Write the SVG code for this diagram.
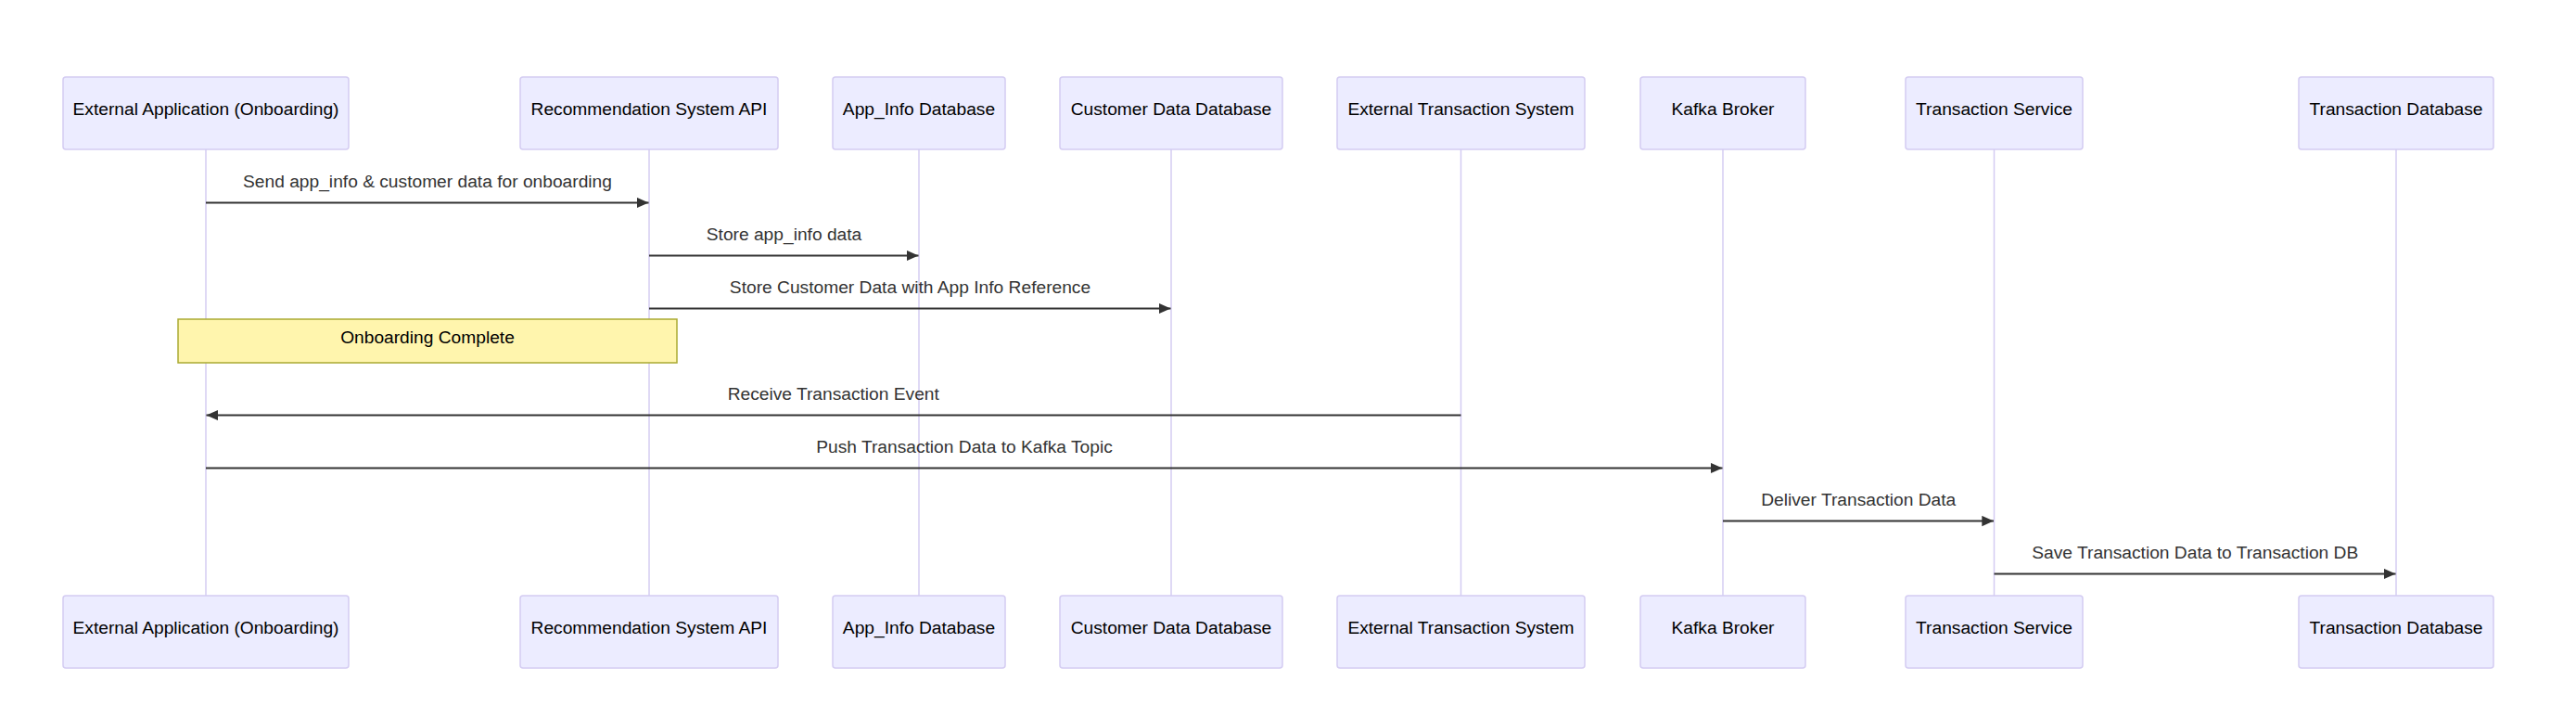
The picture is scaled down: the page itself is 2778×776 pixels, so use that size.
<svg xmlns="http://www.w3.org/2000/svg" width="2778" height="776" viewBox="0 0 2778 776">
<style>
.actor{fill:#ECECFF;stroke:#D4CCF2;stroke-width:1.5}
.atext{font-family:"Liberation Sans",Arial,sans-serif;font-size:19.2px;fill:#000;text-anchor:middle}
.life{stroke:#D4CCF2;stroke-width:1.5;fill:none}
.msg{stroke:#333;stroke-width:2;fill:none;marker-end:url(#arrow)}
.mtext{font-family:"Liberation Sans",Arial,sans-serif;font-size:19.2px;fill:#333;text-anchor:middle}
.note{fill:#FFF5AD;stroke:#AAAA33;stroke-width:1.5}
.ntext{font-family:"Liberation Sans",Arial,sans-serif;font-size:19.2px;fill:#000;text-anchor:middle}
</style>
<defs>
<marker id="arrow" markerUnits="userSpaceOnUse" markerWidth="14" markerHeight="12" refX="12.7" refY="5.65" orient="auto">
<path d="M0,0 L12.7,5.65 L0,11.3 z" fill="#333"/>
</marker>
</defs>
<rect width="2778" height="776" fill="#fff"/>
<g id="lifelines">
<line class="life" x1="222" y1="161" x2="222" y2="642"/>
<line class="life" x1="700" y1="161" x2="700" y2="642"/>
<line class="life" x1="991" y1="161" x2="991" y2="642"/>
<line class="life" x1="1263" y1="161" x2="1263" y2="642"/>
<line class="life" x1="1575.5" y1="161" x2="1575.5" y2="642"/>
<line class="life" x1="1858" y1="161" x2="1858" y2="642"/>
<line class="life" x1="2150.5" y1="161" x2="2150.5" y2="642"/>
<line class="life" x1="2584" y1="161" x2="2584" y2="642"/>
</g>
<g id="actor-extapp">
<rect class="actor" x="68" y="83" width="308" height="78" rx="3"/>
<text class="atext" x="222" y="124">External Application (Onboarding)</text>
<rect class="actor" x="68" y="642" width="308" height="78" rx="3"/>
<text class="atext" x="222" y="683">External Application (Onboarding)</text>
</g>
<g id="actor-recapi">
<rect class="actor" x="561" y="83" width="278" height="78" rx="3"/>
<text class="atext" x="700" y="124">Recommendation System API</text>
<rect class="actor" x="561" y="642" width="278" height="78" rx="3"/>
<text class="atext" x="700" y="683">Recommendation System API</text>
</g>
<g id="actor-appinfodb">
<rect class="actor" x="898" y="83" width="186" height="78" rx="3"/>
<text class="atext" x="991" y="124">App_Info Database</text>
<rect class="actor" x="898" y="642" width="186" height="78" rx="3"/>
<text class="atext" x="991" y="683">App_Info Database</text>
</g>
<g id="actor-customerdb">
<rect class="actor" x="1143" y="83" width="240" height="78" rx="3"/>
<text class="atext" x="1263" y="124">Customer Data Database</text>
<rect class="actor" x="1143" y="642" width="240" height="78" rx="3"/>
<text class="atext" x="1263" y="683">Customer Data Database</text>
</g>
<g id="actor-exttx">
<rect class="actor" x="1442" y="83" width="267" height="78" rx="3"/>
<text class="atext" x="1575.5" y="124">External Transaction System</text>
<rect class="actor" x="1442" y="642" width="267" height="78" rx="3"/>
<text class="atext" x="1575.5" y="683">External Transaction System</text>
</g>
<g id="actor-kafka">
<rect class="actor" x="1769" y="83" width="178" height="78" rx="3"/>
<text class="atext" x="1858" y="124">Kafka Broker</text>
<rect class="actor" x="1769" y="642" width="178" height="78" rx="3"/>
<text class="atext" x="1858" y="683">Kafka Broker</text>
</g>
<g id="actor-txservice">
<rect class="actor" x="2055" y="83" width="191" height="78" rx="3"/>
<text class="atext" x="2150.5" y="124">Transaction Service</text>
<rect class="actor" x="2055" y="642" width="191" height="78" rx="3"/>
<text class="atext" x="2150.5" y="683">Transaction Service</text>
</g>
<g id="actor-txdb">
<rect class="actor" x="2479" y="83" width="210" height="78" rx="3"/>
<text class="atext" x="2584" y="124">Transaction Database</text>
<rect class="actor" x="2479" y="642" width="210" height="78" rx="3"/>
<text class="atext" x="2584" y="683">Transaction Database</text>
</g>
<g id="note-onboarding">
<rect class="note" x="192" y="344" width="538" height="47"/>
<text class="ntext" x="461" y="370">Onboarding Complete</text>
</g>
<g id="connectors">
<line class="msg" x1="222" y1="218.5" x2="699.5" y2="218.5"/>
<text class="mtext" x="461" y="202">Send app_info &amp; customer data for onboarding</text>
<line class="msg" x1="700" y1="275.5" x2="990.5" y2="275.5"/>
<text class="mtext" x="845.5" y="259">Store app_info data</text>
<line class="msg" x1="700" y1="332.5" x2="1262.5" y2="332.5"/>
<text class="mtext" x="981.5" y="316">Store Customer Data with App Info Reference</text>
<line class="msg" x1="1575.5" y1="447.5" x2="222.5" y2="447.5"/>
<text class="mtext" x="898.75" y="431">Receive Transaction Event</text>
<line class="msg" x1="222" y1="504.5" x2="1857.5" y2="504.5"/>
<text class="mtext" x="1040" y="488">Push Transaction Data to Kafka Topic</text>
<line class="msg" x1="1858" y1="561.5" x2="2150" y2="561.5"/>
<text class="mtext" x="2004.25" y="545">Deliver Transaction Data</text>
<line class="msg" x1="2150.5" y1="618.5" x2="2583.5" y2="618.5"/>
<text class="mtext" x="2367.25" y="602">Save Transaction Data to Transaction DB</text>
</g>
</svg>
